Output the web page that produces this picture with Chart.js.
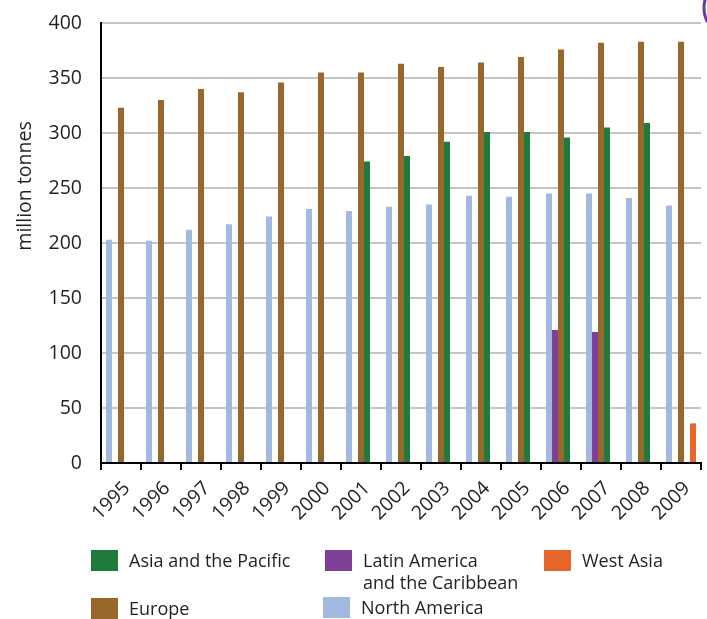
<!DOCTYPE html>
<html>
<head>
<meta charset="utf-8">
<script src="https://cdn.jsdelivr.net/npm/chart.js@4.4.1/dist/chart.umd.min.js"></script>
<style>
  html, body { margin: 0; padding: 0; background: #fff; }
  #wrap { position: relative; width: 707px; height: 619px; }
  #legend { position: absolute; left: 0; top: 0; width: 707px; height: 619px; pointer-events: none;
    font-family: "Open Sans", sans-serif; font-size: 18px; color: #231f20; }
  .item { position: absolute; display: flex; align-items: flex-start; }
  .box { width: 27px; height: 21px; margin-right: 11px; flex: none; }
  .lbl { line-height: 22px; margin-top: -1px; }
</style>
</head>
<body>
<div id="wrap">
  <canvas id="chart" width="707" height="619"></canvas>
  <div id="legend"></div>
</div>
<script>
const years = ['1995', '1996', '1997', '1998', '1999', '2000', '2001', '2002', '2003', '2004', '2005', '2006', '2007', '2008', '2009'];

const northAmerica = [203, 202, 212, 217, 224, 231, 229, 233, 235, 243, 242, 245, 245, 241, 234];
const latinAmerica = [null, null, null, null, null, null, null, null, null, null, null, 121, 119, null, null];
const europe = [323, 330, 340, 337, 346, 355, 355, 363, 360, 364, 369, 376, 382, 383, 383];
const asiaPacific = [null, null, null, null, null, null, 274, 279, 292, 301, 301, 296, 305, 309, null];
const westAsia = [null, null, null, null, null, null, null, null, null, null, null, null, null, null, 36];

const yTicks = [0, 50, 100, 150, 200, 250, 300, 350, 400];

const colors = {
  na: '#a3bae0',
  latin: '#7d3f98',
  europe: '#98672b',
  asia: '#1e7a3d',
  west: '#e8662a'
};

const tickFont = { family: '"Open Sans", sans-serif', size: 19.5 };

// axis title sits higher than the axis centre, so draw it by hand
const extras = {
  id: 'extras',
  afterDraw(chart) {
    const ctx = chart.ctx;
    ctx.save();
    ctx.translate(25, 186);
    ctx.rotate(-Math.PI / 2);
    ctx.font = '19.5px "Open Sans", sans-serif';
    ctx.fillStyle = '#231f20';
    ctx.textAlign = 'center';
    ctx.textBaseline = 'middle';
    ctx.fillText('million tonnes', 0, 0);
    ctx.restore();

    // bit of a purple ring poking in at the top right corner
    ctx.save();
    ctx.beginPath();
    ctx.arc(735, 8, 31, Math.PI * 0.85, Math.PI * 1.2);
    ctx.strokeStyle = '#6a3d98';
    ctx.lineWidth = 3;
    ctx.stroke();
    ctx.restore();
  }
};

new Chart(document.getElementById('chart'), {
  type: 'bar',
  data: {
    labels: years,
    datasets: [
      { label: 'North America', data: northAmerica, backgroundColor: colors.na },
      { label: 'Latin America and the Caribbean', data: latinAmerica, backgroundColor: colors.latin },
      { label: 'Europe', data: europe, backgroundColor: colors.europe },
      { label: 'Asia and the Pacific', data: asiaPacific, backgroundColor: colors.asia },
      { label: 'West Asia', data: westAsia, backgroundColor: colors.west }
    ]
  },
  options: {
    responsive: false,
    animation: false,
    categoryPercentage: 0.75,
    barPercentage: 1.0,
    layout: { padding: { top: 23, right: 6, left: 0, bottom: 0 } },
    plugins: {
      legend: { display: false },
      tooltip: { enabled: false }
    },
    scales: {
      x: {
        offset: true,
        grid: { drawOnChartArea: false, drawTicks: true, tickLength: 7, color: '#000', lineWidth: 2 },
        border: { color: '#000', width: 2 },
        ticks: { color: '#231f20', font: tickFont, minRotation: 45, maxRotation: 45, padding: 7, labelOffset: 6 },
        afterFit(scale) { scale.height = 156; }
      },
      y: {
        min: 0,
        max: 400,
        afterBuildTicks(scale) { scale.ticks = yTicks.map(v => ({ value: v })); },
        // invisible tick marks push the labels left without adding top padding
        grid: { color: '#c4c4c4', lineWidth: 2, drawTicks: true, tickLength: 13, tickColor: 'rgba(0,0,0,0)' },
        border: { color: '#000', width: 2 },
        ticks: { color: '#231f20', font: tickFont, padding: 6 },
        afterFit(scale) { scale.width = 101; }
      }
    }
  },
  plugins: [extras]
});

// legend laid out in three columns like the original
const legendItems = [
  { text: 'Asia and the Pacific', color: colors.asia, x: 91, y: 550 },
  { text: 'Latin America<br>and the Caribbean', color: colors.latin, x: 325, y: 550 },
  { text: 'West Asia', color: colors.west, x: 544, y: 550 },
  { text: 'Europe', color: colors.europe, x: 91, y: 598 },
  { text: 'North America', color: colors.na, x: 323, y: 597 }
];
const legend = document.getElementById('legend');
legendItems.forEach(it => {
  const el = document.createElement('div');
  el.className = 'item';
  el.style.left = it.x + 'px';
  el.style.top = it.y + 'px';
  el.innerHTML = '<div class="box" style="background:' + it.color + '"></div><div class="lbl">' + it.text + '</div>';
  legend.appendChild(el);
});
</script>
</body>
</html>
